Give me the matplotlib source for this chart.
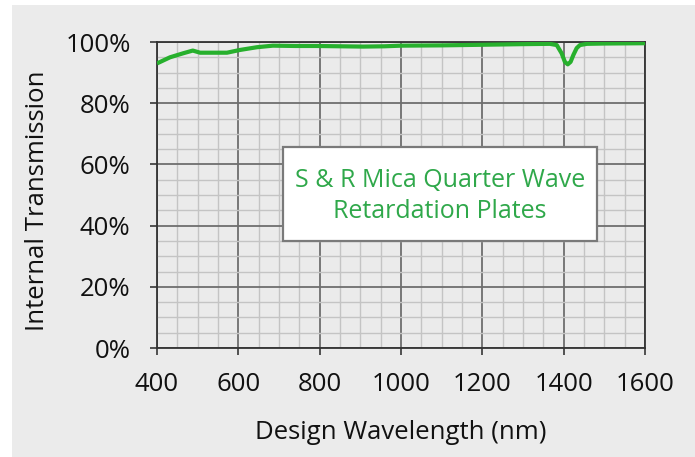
import matplotlib
matplotlib.use("Agg")
import matplotlib.pyplot as plt
from matplotlib.patches import Rectangle
from matplotlib.ticker import MultipleLocator, FuncFormatter

plt.rcParams['font.family'] = ['Open Sans', 'DejaVu Sans']

# Transmission curve of S & R mica quarter wave retardation plates
wavelength_nm = [400, 432, 464, 488, 506, 540, 572, 604, 646, 685, 740, 791,
                 850, 907, 960, 1000, 1100, 1202, 1300, 1366, 1383, 1395,
                 1403, 1410, 1417, 1424, 1432, 1440, 1457, 1500, 1600]
transmission_pct = [93.0, 95.0, 96.3, 97.2, 96.5, 96.5, 96.5, 97.4, 98.3, 98.8,
                    98.7, 98.7, 98.6, 98.5, 98.6, 98.8, 98.9, 99.1, 99.3, 99.4,
                    99.0, 96.3, 93.5, 92.7, 93.5, 95.8, 98.0, 99.0, 99.4, 99.5,
                    99.6]

x_ticks = [400, 600, 800, 1000, 1200, 1400, 1600]
y_ticks = [0, 20, 40, 60, 80, 100]

bg = '#ebebeb'
green = '#27b02d'
text_green = '#2fa84a'
ink = '#111111'

fig = plt.figure(figsize=(6.95, 4.57), dpi=100, facecolor='white')
fig.patches.append(Rectangle((12 / 695, 0), 1 - 12 / 695, 1 - 5 / 457,
                             transform=fig.transFigure, facecolor=bg,
                             edgecolor='none', zorder=-10))

ax = fig.add_axes([157 / 695, 1 - 348 / 457, (645 - 157) / 695, (348 - 42) / 457])
ax.set_facecolor(bg)

ax.plot(wavelength_nm, transmission_pct, color=green, lw=3.0,
        solid_capstyle='butt', zorder=5)

ax.set_xlim(400, 1600)
ax.set_ylim(0, 100)
ax.set_xticks(x_ticks)
ax.set_yticks(y_ticks)
ax.xaxis.set_minor_locator(MultipleLocator(50))
ax.yaxis.set_minor_locator(MultipleLocator(5))
ax.yaxis.set_major_formatter(FuncFormatter(lambda v, p: f"{v:.0f}%"))

ax.grid(which='minor', color='#c4c4c4', lw=1.0)
ax.grid(which='major', color='#6e6e6e', lw=1.3)
ax.set_axisbelow(True)

for side in ['top', 'right', 'left', 'bottom']:
    ax.spines[side].set_color('#333333')
    ax.spines[side].set_linewidth(1.3)

ax.tick_params(which='major', direction='out', length=5, width=1.3,
               color='#444444', labelsize=18.5, labelcolor=ink)
ax.tick_params(axis='x', pad=12)
ax.tick_params(axis='y', pad=14)
ax.tick_params(which='minor', length=0)

ax.set_xlabel('Design Wavelength (nm)', fontsize=18.5, color=ink, va='center')
ax.xaxis.set_label_coords(0.5, (348 - 432) / 306)
ax.set_ylabel('Internal Transmission', fontsize=18.5, color=ink, va='center')
ax.yaxis.set_label_coords((38 - 157) / 488, (348 - 201) / 306)

# Title box inside the plot
x0, x1 = (283 - 157) / 488, (597 - 157) / 488
y0, y1 = (348 - 241) / 306, (348 - 147) / 306
ax.add_patch(Rectangle((x0, y0), x1 - x0, y1 - y0, transform=ax.transAxes,
                       facecolor='white', edgecolor='#7a7a7a', linewidth=1.6,
                       zorder=9))
ax.text((x0 + x1) / 2, (y0 + y1) / 2 - 0.006,
        'S & R Mica Quarter Wave\nRetardation Plates',
        transform=ax.transAxes, ha='center', va='center', fontsize=18,
        color=text_green, linespacing=1.3, zorder=10)

fig.savefig('out.png', dpi=100, facecolor='white')
